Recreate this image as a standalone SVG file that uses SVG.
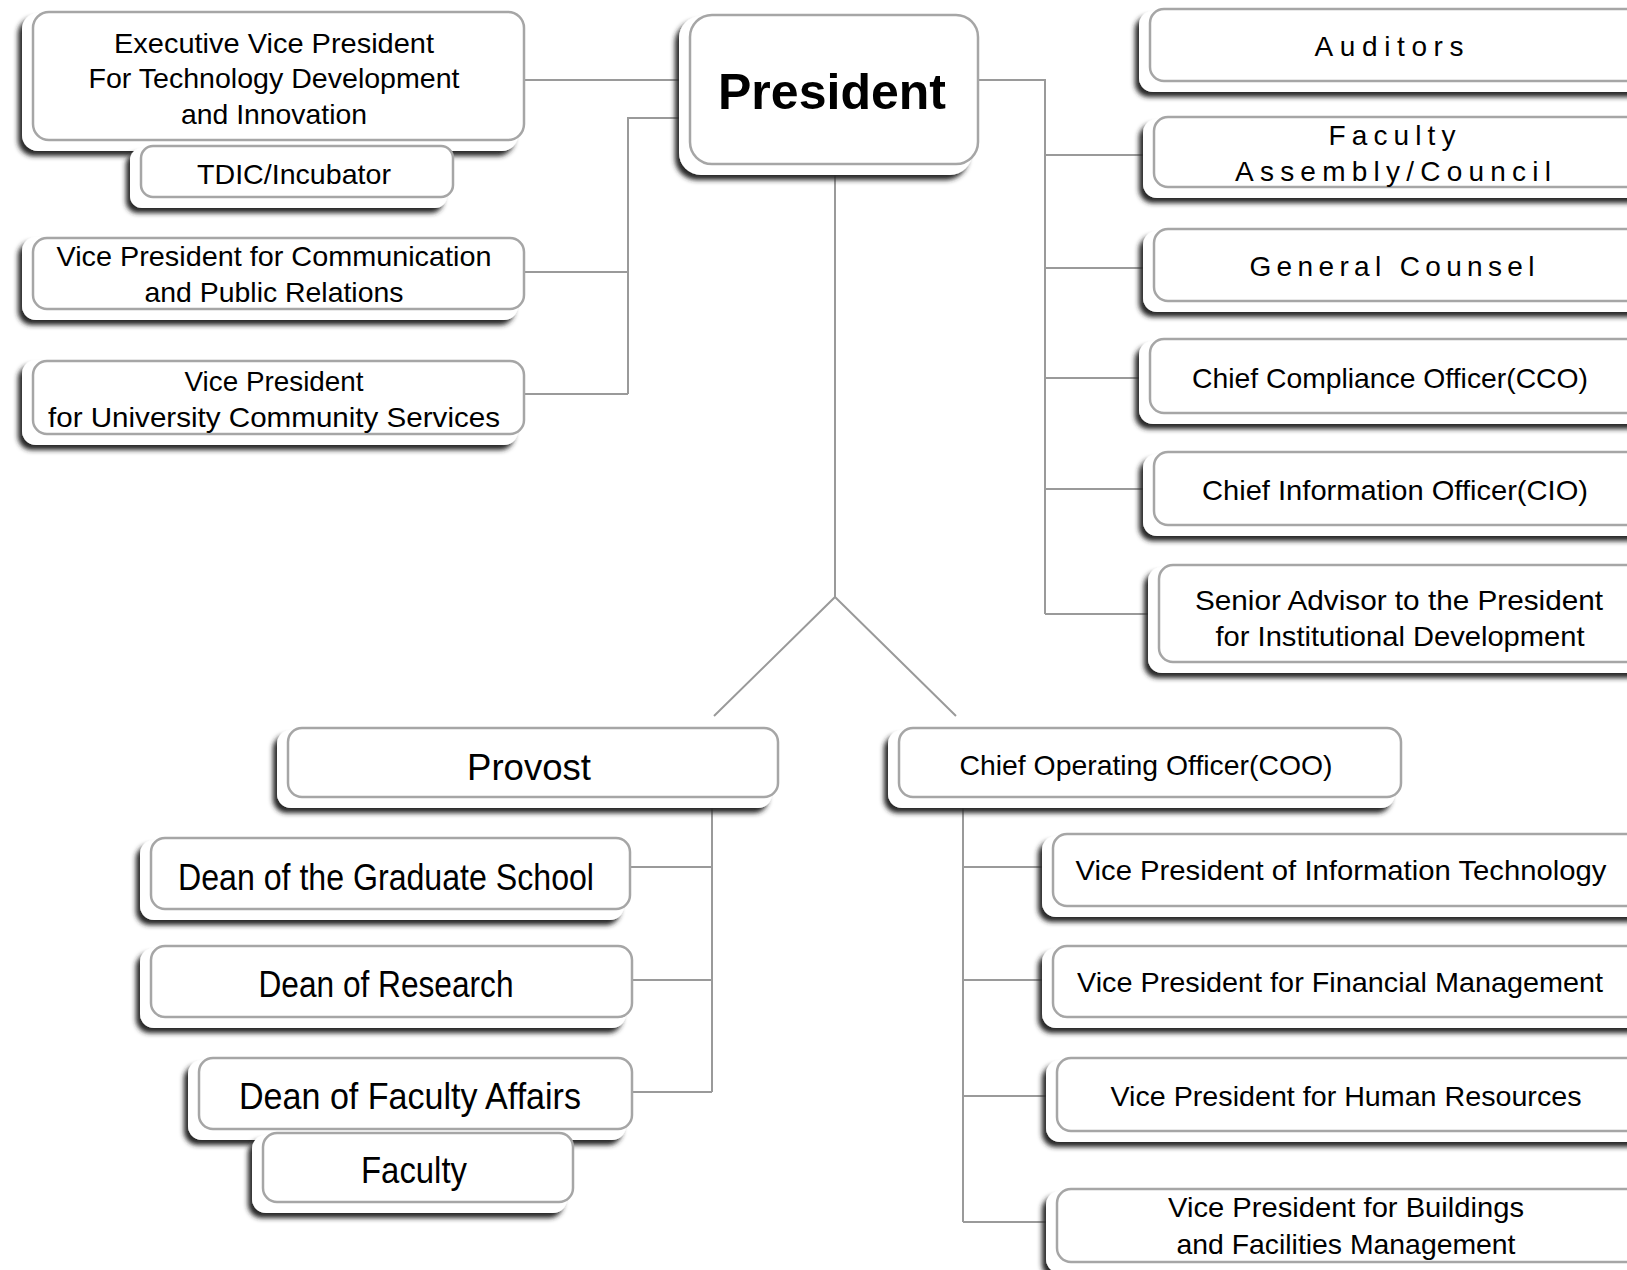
<svg xmlns="http://www.w3.org/2000/svg" width="1627" height="1270" viewBox="0 0 1627 1270">
<defs>
<filter id="sh" x="-10%" y="-15%" width="125%" height="140%">
<feGaussianBlur in="SourceAlpha" stdDeviation="2.6"/>
<feOffset dx="-4" dy="5" result="o"/>
<feFlood flood-color="#262626" flood-opacity="1"/>
<feComposite in2="o" operator="in"/>
<feMerge><feMergeNode/><feMergeNode in="SourceGraphic"/></feMerge>
</filter>
</defs>
<style>
.plate{fill:#fff;filter:url(#sh)}
.box{fill:#fff;stroke:#a6a6a6;stroke-width:2.5}
.t{font-family:"Liberation Sans",Arial,sans-serif;font-size:28px;fill:#000;text-anchor:middle}
.d{font-size:37px}
.b{font-weight:bold;font-size:50px}
.c{fill:none;stroke:#9a9a9a;stroke-width:2}
</style>
<rect width="1627" height="1270" fill="#fff"/>
<g id="connectors" class="c">
<path class="c" d="M524,80 H690"/>
<path class="c" d="M685,118 H628 V394 M524,272 H628 M524,394 H628"/>
<path class="c" d="M978,80 H1045 V614 M1045,155 H1150 M1045,268 H1150 M1045,378 H1150 M1045,489 H1150 M1045,614 H1150"/>
<path class="c" d="M835,164 V597 L714,716 M835,597 L956,716"/>
<path class="c" d="M712,797 V1092 M630,867 H712 M632,980 H712 M632,1092 H712"/>
<path class="c" d="M963,797 V1222 M963,867 H1053 M963,980 H1053 M963,1096 H1057 M963,1222 H1057"/>
</g>
<g id="evp">
<rect class="plate" x="22" y="13" width="496" height="138" rx="16"/>
<rect class="box" x="33" y="12" width="491" height="128" rx="16"/>
<text class="t" x="274" y="53" textLength="320" lengthAdjust="spacingAndGlyphs">Executive Vice President</text>
<text class="t" x="274" y="88" textLength="371" lengthAdjust="spacingAndGlyphs">For Technology Development</text>
<text class="t" x="274" y="124" textLength="186" lengthAdjust="spacingAndGlyphs">and Innovation</text>
</g>
<g id="tdic">
<rect class="plate" x="130" y="148" width="317" height="60" rx="12"/>
<rect class="box" x="141" y="146" width="312" height="51" rx="12"/>
<text class="t" x="294" y="184" textLength="194" lengthAdjust="spacingAndGlyphs">TDIC/Incubator</text>
</g>
<g id="vp-comm">
<rect class="plate" x="22" y="237" width="496" height="83" rx="14"/>
<rect class="box" x="33" y="238" width="491" height="71" rx="14"/>
<text class="t" x="274" y="266" textLength="435" lengthAdjust="spacingAndGlyphs">Vice President for Communication</text>
<text class="t" x="274" y="302" textLength="259" lengthAdjust="spacingAndGlyphs">and Public Relations</text>
</g>
<g id="vp-univ">
<rect class="plate" x="22" y="360" width="496" height="85" rx="14"/>
<rect class="box" x="33" y="361" width="491" height="73" rx="14"/>
<text class="t" x="274" y="391" textLength="179" lengthAdjust="spacingAndGlyphs">Vice President</text>
<text class="t" x="274" y="427" textLength="452" lengthAdjust="spacingAndGlyphs">for University Community Services</text>
</g>
<g id="president">
<rect class="plate" x="679" y="16" width="293" height="159" rx="22"/>
<rect class="box" x="690" y="15" width="288" height="149" rx="22"/>
<text class="t b" x="832" y="109" textLength="228" lengthAdjust="spacing">President</text>
</g>
<g id="auditors">
<rect class="plate" x="1139" y="11" width="560" height="81" rx="14"/>
<rect class="box" x="1150" y="9" width="560" height="72" rx="14"/>
<text class="t" x="1389" y="56" textLength="149" lengthAdjust="spacing">Auditors</text>
</g>
<g id="faculty-assembly">
<rect class="plate" x="1143" y="119" width="560" height="79" rx="14"/>
<rect class="box" x="1154" y="117" width="560" height="70" rx="14"/>
<text class="t" x="1392" y="145" textLength="127" lengthAdjust="spacing">Faculty</text>
<text class="t" x="1393" y="181" textLength="316" lengthAdjust="spacing">Assembly/Council</text>
</g>
<g id="general-counsel">
<rect class="plate" x="1143" y="231" width="560" height="81" rx="14"/>
<rect class="box" x="1154" y="229" width="560" height="72" rx="14"/>
<text class="t" x="1392" y="276" textLength="285" lengthAdjust="spacing">General Counsel</text>
</g>
<g id="cco">
<rect class="plate" x="1139" y="341" width="560" height="83" rx="14"/>
<rect class="box" x="1150" y="339" width="560" height="74" rx="14"/>
<text class="t" x="1390" y="388" textLength="396" lengthAdjust="spacingAndGlyphs">Chief Compliance Officer(CCO)</text>
</g>
<g id="cio">
<rect class="plate" x="1143" y="454" width="560" height="82" rx="14"/>
<rect class="box" x="1154" y="452" width="560" height="73" rx="14"/>
<text class="t" x="1395" y="500" textLength="386" lengthAdjust="spacingAndGlyphs">Chief Information Officer(CIO)</text>
</g>
<g id="senior-advisor">
<rect class="plate" x="1148" y="567" width="560" height="106" rx="14"/>
<rect class="box" x="1159" y="565" width="560" height="97" rx="14"/>
<text class="t" x="1399" y="610" textLength="408" lengthAdjust="spacingAndGlyphs">Senior Advisor to the President</text>
<text class="t" x="1400" y="646" textLength="369" lengthAdjust="spacingAndGlyphs">for Institutional Development</text>
</g>
<g id="provost">
<rect class="plate" x="277" y="730" width="495" height="78" rx="14"/>
<rect class="box" x="288" y="728" width="490" height="69" rx="14"/>
<text class="t d" x="529" y="780" textLength="124" lengthAdjust="spacingAndGlyphs">Provost</text>
</g>
<g id="dean-grad">
<rect class="plate" x="140" y="840" width="484" height="80" rx="14"/>
<rect class="box" x="151" y="838" width="479" height="71" rx="14"/>
<text class="t d" x="386" y="890" textLength="416" lengthAdjust="spacingAndGlyphs">Dean of the Graduate School</text>
</g>
<g id="dean-research">
<rect class="plate" x="140" y="948" width="486" height="80" rx="14"/>
<rect class="box" x="151" y="946" width="481" height="71" rx="14"/>
<text class="t d" x="386" y="997" textLength="255" lengthAdjust="spacingAndGlyphs">Dean of Research</text>
</g>
<g id="dean-faculty-affairs">
<rect class="plate" x="188" y="1060" width="438" height="80" rx="14"/>
<rect class="box" x="199" y="1058" width="433" height="71" rx="14"/>
<text class="t d" x="410" y="1109" textLength="342" lengthAdjust="spacingAndGlyphs">Dean of Faculty Affairs</text>
</g>
<g id="faculty">
<rect class="plate" x="252" y="1135" width="315" height="78" rx="14"/>
<rect class="box" x="263" y="1133" width="310" height="69" rx="14"/>
<text class="t d" x="414" y="1183" textLength="106" lengthAdjust="spacingAndGlyphs">Faculty</text>
</g>
<g id="coo">
<rect class="plate" x="888" y="730" width="507" height="78" rx="14"/>
<rect class="box" x="899" y="728" width="502" height="69" rx="14"/>
<text class="t" x="1146" y="775" textLength="373" lengthAdjust="spacingAndGlyphs">Chief Operating Officer(COO)</text>
</g>
<g id="vp-it">
<rect class="plate" x="1042" y="836" width="660" height="81" rx="14"/>
<rect class="box" x="1053" y="834" width="660" height="72" rx="14"/>
<text class="t" x="1341" y="880" textLength="531" lengthAdjust="spacingAndGlyphs">Vice President of Information Technology</text>
</g>
<g id="vp-fin">
<rect class="plate" x="1042" y="948" width="660" height="80" rx="14"/>
<rect class="box" x="1053" y="946" width="660" height="71" rx="14"/>
<text class="t" x="1340" y="992" textLength="526" lengthAdjust="spacingAndGlyphs">Vice President for Financial Management</text>
</g>
<g id="vp-hr">
<rect class="plate" x="1046" y="1060" width="660" height="82" rx="14"/>
<rect class="box" x="1057" y="1058" width="660" height="73" rx="14"/>
<text class="t" x="1346" y="1106" textLength="471" lengthAdjust="spacingAndGlyphs">Vice President for Human Resources</text>
</g>
<g id="vp-buildings">
<rect class="plate" x="1046" y="1191" width="660" height="82" rx="14"/>
<rect class="box" x="1057" y="1189" width="660" height="73" rx="14"/>
<text class="t" x="1346" y="1217" textLength="356" lengthAdjust="spacingAndGlyphs">Vice President for Buildings</text>
<text class="t" x="1346" y="1254" textLength="339" lengthAdjust="spacingAndGlyphs">and Facilities Management</text>
</g>
</svg>
